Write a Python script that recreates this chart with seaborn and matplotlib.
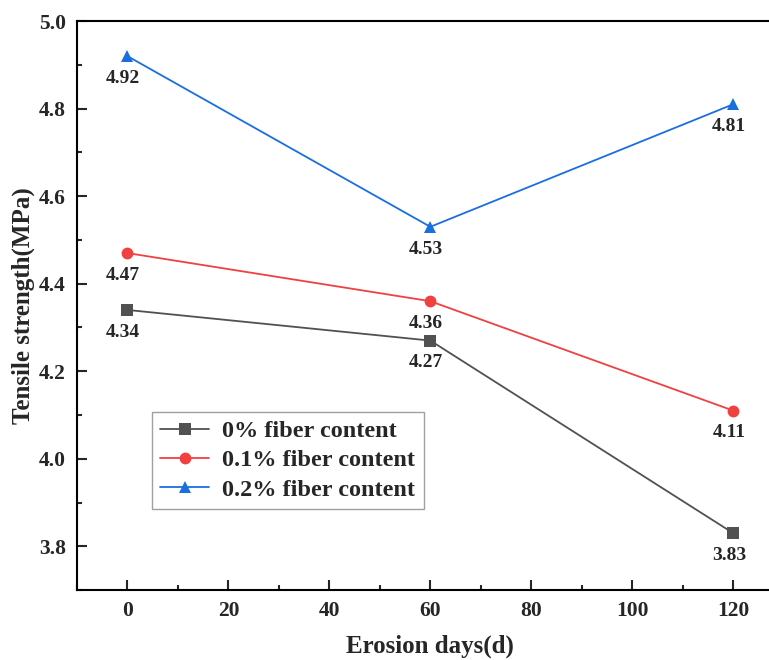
import matplotlib
matplotlib.use("Agg")
import matplotlib.pyplot as plt
from matplotlib.ticker import MultipleLocator
import seaborn as sns
import pandas as pd

# Data
days = [0, 60, 120]
series_names = ["0% fiber content", "0.1% fiber content", "0.2% fiber content"]
strength_0 = [4.34, 4.27, 3.83]
strength_01 = [4.47, 4.36, 4.11]
strength_02 = [4.92, 4.53, 4.81]
colors = ["#515151", "#F14040", "#1A6FDF"]
markers = ["s", "o", "^"]

rows = []
for name, vals in zip(series_names, [strength_0, strength_01, strength_02]):
    for d, v in zip(days, vals):
        rows.append({"days": d, "strength": v, "series": name})
df = pd.DataFrame(rows)

sns.set_style("ticks")
plt.rcParams['font.family'] = ['Liberation Serif', 'DejaVu Serif']
plt.rcParams['font.weight'] = 'bold'
plt.rcParams['axes.labelweight'] = 'bold'

fig = plt.figure(figsize=(7.69, 6.6), dpi=100)
ax = fig.add_axes([0.1001, 0.106, 0.919, 0.862])

sns.lineplot(data=df, x="days", y="strength", hue="series", style="series",
             markers=markers, dashes=False, palette=colors, linewidth=1.3,
             markersize=8.5, markeredgewidth=0, ax=ax)

# value labels under each point
for vals in [strength_0, strength_01, strength_02]:
    for d, v in zip(days, vals):
        ax.annotate("{0:.2f}".format(v), (d, v), xytext=(-3, -16),
                    textcoords="offset points", ha="center", va="center",
                    fontsize=14, fontweight="bold")

ax.set_xlim(-10, 130)
ax.set_ylim(3.7, 5.0)
ax.xaxis.set_minor_locator(MultipleLocator(10))
ax.yaxis.set_minor_locator(MultipleLocator(0.1))
ax.set_yticks([3.8, 4.0, 4.2, 4.4, 4.6, 4.8, 5.0])
ax.set_xticks([0, 20, 40, 60, 80, 100, 120])

ax.tick_params(which="major", direction="in", length=7, width=1.5, labelsize=15.5, pad=8)
ax.tick_params(which="minor", direction="in", length=3.5, width=1.5)
ax.tick_params(top=False, right=False, which="both")
for s in ax.spines.values():
    s.set_linewidth(1.5)
    s.set_color("black")

ax.set_xlabel("Erosion days(d)", fontsize=18, fontweight="bold", labelpad=10)
ax.set_ylabel("Tensile strength(MPa)", fontsize=18, fontweight="bold", labelpad=3)

leg = ax.legend(loc="lower left", bbox_to_anchor=(0.106, 0.142), borderaxespad=0,
                fontsize=17.5, frameon=True, fancybox=False, edgecolor="#888888",
                handlelength=2.0, handletextpad=0.55, labelspacing=0.3,
                borderpad=0.35, title=None)
leg.get_frame().set_linewidth(1.0)
for t in leg.get_texts():
    t.set_fontweight("bold")

fig.savefig("out.png", dpi=100)
